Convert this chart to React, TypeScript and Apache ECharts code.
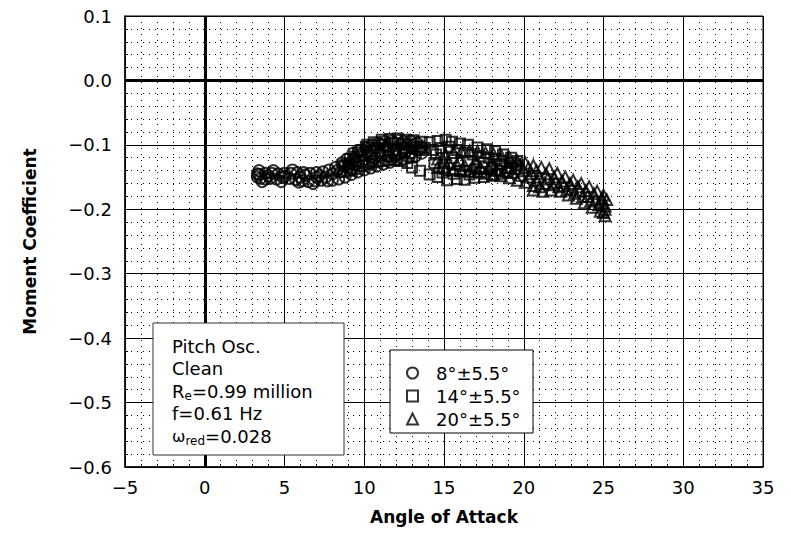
import React, { useEffect, useRef } from "react";
import * as echarts from "echarts";

// 8°±5.5° (circles)
const circlePts: number[][] = [
  [3.3, -0.150], [3.5, -0.152], [3.8, -0.153], [4.1, -0.152], [4.5, -0.153], [4.9, -0.151], [5.3, -0.152],
  [5.7, -0.154], [6.1, -0.156], [6.5, -0.157], [6.9, -0.156], [7.3, -0.155], [7.7, -0.156], [8.0, -0.155],
  [8.4, -0.153], [8.8, -0.150], [9.2, -0.146], [9.6, -0.142], [10.0, -0.139], [10.4, -0.136], [10.8, -0.133],
  [11.2, -0.130], [11.6, -0.127], [12.0, -0.124], [12.4, -0.122], [12.8, -0.120], [13.2, -0.118], [13.6, -0.113],
  [13.6, -0.103], [13.3, -0.097], [12.9, -0.094], [12.5, -0.095], [12.1, -0.093], [11.7, -0.094], [11.3, -0.095],
  [10.9, -0.097], [10.5, -0.100], [10.1, -0.105], [9.7, -0.109], [9.3, -0.113], [8.9, -0.122], [8.6, -0.128],
  [8.2, -0.135], [7.8, -0.139], [7.4, -0.142], [7.0, -0.143], [6.6, -0.144], [6.2, -0.143], [5.8, -0.143],
  [5.4, -0.144], [5.0, -0.144], [4.6, -0.145], [4.2, -0.144], [3.8, -0.144], [3.4, -0.146],
  [3.3, -0.145], [4.0, -0.148], [5.0, -0.149], [6.0, -0.150], [7.0, -0.150], [8.0, -0.145], [9.0, -0.135],
  [10.0, -0.122], [11.0, -0.112], [12.0, -0.107], [13.0, -0.105], [11.5, -0.118], [10.5, -0.125], [9.5, -0.130],
  [8.5, -0.142],
  [3.4, -0.140], [3.6, -0.157], [4.3, -0.140], [4.8, -0.157], [5.5, -0.139], [5.9, -0.158], [6.3, -0.147],
  [6.8, -0.160], [7.2, -0.148], [7.6, -0.150], [8.3, -0.140], [8.7, -0.133], [9.1, -0.128], [9.4, -0.120],
  [9.8, -0.115], [10.2, -0.112], [10.6, -0.108], [11.0, -0.100], [11.4, -0.103], [11.8, -0.110], [12.2, -0.113],
  [12.6, -0.110], [13.0, -0.112], [13.4, -0.108], [12.3, -0.100], [11.9, -0.118], [10.7, -0.120], [10.3, -0.128],
  [9.9, -0.126], [9.2, -0.138],
];

// 14°±5.5° (squares)
const squarePts: number[][] = [
  [8.7, -0.142], [9.1, -0.140], [9.5, -0.137], [9.9, -0.133], [10.3, -0.130], [10.7, -0.127], [11.1, -0.125],
  [11.5, -0.124], [11.9, -0.123], [12.3, -0.125], [12.7, -0.128], [13.0, -0.135], [13.5, -0.140], [14.1, -0.146],
  [14.6, -0.150], [15.2, -0.155], [15.8, -0.153], [16.3, -0.154], [16.9, -0.151], [17.5, -0.150], [18.0, -0.148],
  [18.5, -0.145], [19.0, -0.142], [19.5, -0.138],
  [19.6, -0.125], [19.2, -0.120], [18.7, -0.115], [18.2, -0.110], [17.7, -0.107], [17.1, -0.104], [16.5, -0.100],
  [16.0, -0.098], [15.5, -0.095], [15.1, -0.092], [14.6, -0.094], [14.1, -0.096], [13.6, -0.095], [13.1, -0.093],
  [12.6, -0.092], [12.1, -0.090], [11.6, -0.091], [11.1, -0.092], [10.6, -0.096], [10.1, -0.103], [9.6, -0.112],
  [9.1, -0.122], [8.7, -0.132],
  [9.5, -0.125], [10.5, -0.115], [11.5, -0.108], [12.5, -0.105], [13.5, -0.108], [14.5, -0.115], [15.5, -0.120],
  [16.5, -0.125], [17.5, -0.128], [18.5, -0.130], [19.5, -0.132], [15.0, -0.135], [16.0, -0.140], [17.0, -0.138],
  [18.0, -0.135],
  [9.0, -0.130], [9.4, -0.118], [9.8, -0.108], [10.2, -0.100], [10.8, -0.105], [11.3, -0.100], [11.8, -0.097],
  [12.4, -0.098], [12.9, -0.100], [13.3, -0.103], [13.8, -0.105], [14.3, -0.108], [14.8, -0.105], [15.3, -0.103],
  [15.8, -0.108], [16.3, -0.112], [16.8, -0.115], [17.3, -0.118], [17.8, -0.120], [18.3, -0.122], [18.8, -0.125],
  [19.3, -0.128], [14.4, -0.128], [14.9, -0.143], [15.6, -0.145], [16.6, -0.146], [17.3, -0.142], [18.3, -0.140],
  [19.2, -0.136], [13.0, -0.118], [12.0, -0.115], [11.0, -0.117],
];

// 20°±5.5° (triangles)
const trianglePts: number[][] = [
  [14.6, -0.135], [15.1, -0.137], [15.6, -0.139], [16.1, -0.140], [16.6, -0.141], [17.1, -0.142], [17.6, -0.144],
  [18.1, -0.146], [18.6, -0.148], [19.1, -0.151], [19.6, -0.155], [20.1, -0.158], [20.6, -0.163], [21.2, -0.172],
  [21.7, -0.170], [22.3, -0.172], [22.8, -0.178], [23.3, -0.183], [23.8, -0.190], [24.3, -0.197], [24.8, -0.203],
  [25.1, -0.210],
  [25.2, -0.185], [25.0, -0.178], [24.6, -0.172], [24.1, -0.165], [23.6, -0.160], [23.1, -0.155], [22.6, -0.150],
  [22.1, -0.144], [21.6, -0.137], [21.1, -0.135], [20.6, -0.132], [20.1, -0.128], [19.6, -0.125], [19.1, -0.120],
  [18.6, -0.117], [18.1, -0.114], [17.6, -0.112], [17.1, -0.110], [16.6, -0.109], [16.1, -0.110], [15.6, -0.112],
  [15.1, -0.115], [14.6, -0.122],
  [25.1, -0.195], [25.1, -0.200], [24.9, -0.190], [24.5, -0.185], [24.0, -0.180], [23.5, -0.172], [23.0, -0.168],
  [22.5, -0.163], [22.0, -0.158], [21.5, -0.153], [21.0, -0.150], [20.5, -0.145], [20.0, -0.140], [19.0, -0.135],
  [18.0, -0.130], [17.0, -0.127], [16.0, -0.125], [15.0, -0.125],
  [15.3, -0.128], [15.8, -0.130], [16.3, -0.132], [16.8, -0.133], [17.3, -0.135], [17.8, -0.137], [18.3, -0.139],
  [18.8, -0.141], [19.3, -0.143], [19.8, -0.147], [20.3, -0.150], [20.8, -0.155], [21.3, -0.160], [21.8, -0.162],
  [22.2, -0.165], [22.7, -0.170], [23.2, -0.175], [23.7, -0.180], [24.2, -0.187], [24.7, -0.193], [25.0, -0.205],
  [20.8, -0.140], [21.4, -0.145], [21.9, -0.150], [22.4, -0.156], [22.9, -0.160], [23.4, -0.165], [23.9, -0.171],
  [24.4, -0.176], [24.9, -0.183], [20.3, -0.135], [19.8, -0.131], [21.0, -0.165], [20.6, -0.170],
];

const seriesNames = ["8°±5.5°", "14°±5.5°", "20°±5.5°"];
const seriesSymbols = ["circle", "rect", "triangle"];
const seriesSizes = [11, 10, 11];
const seriesData = [circlePts, squarePts, trianglePts];

const xName = "Angle of Attack";
const yName = "Moment Coefficient";

const FONT = "DejaVu Sans";

function fmt(v: number, d: number) {
  const r = Math.round(v * Math.pow(10, d)) / Math.pow(10, d);
  const s = Math.abs(r).toFixed(d);
  return r < 0 ? "\u2212" + s : s;
}

export default function App() {
  const ref = useRef<HTMLDivElement>(null);
  useEffect(() => {
    const chart = echarts.init(ref.current!, null, { renderer: "svg" });
    const series: any[] = seriesNames.map((name, i) => ({
      name,
      type: "scatter",
      symbol: seriesSymbols[i],
      symbolSize: seriesSizes[i],
      data: seriesData[i],
      itemStyle: { color: "rgba(0,0,0,0)", borderColor: "#000", borderWidth: 2 },
      z: 3,
    }));
    series[0].markLine = {
      silent: true,
      symbol: "none",
      label: { show: false },
      lineStyle: { color: "#000", width: 3, type: "solid" },
      data: [{ xAxis: 0 }, { yAxis: 0 }],
      z: 2,
    };
    const axisCommon = {
      axisLine: { show: true, onZero: false, lineStyle: { color: "#000", width: 1.5 } },
      axisTick: { show: true, inside: true, length: 5, lineStyle: { color: "#000" } },
      minorTick: { show: true, splitNumber: 5, length: 3, lineStyle: { color: "#000" } },
      splitLine: { show: true, lineStyle: { color: "#000", width: 1 } },
      minorSplitLine: { show: true, lineStyle: { color: "#000", width: 1, type: [1, 5] } },
      nameTextStyle: { fontFamily: FONT, fontSize: 17, color: "#000", fontWeight: "bold" },
    };
    chart.setOption({
      animation: false,
      backgroundColor: "#fff",
      textStyle: { fontFamily: FONT },
      grid: { left: 125, right: 28, top: 16, bottom: 66, show: true, borderColor: "#000", borderWidth: 1 },
      xAxis: {
        type: "value",
        min: -5,
        max: 35,
        interval: 5,
        name: xName,
        nameLocation: "middle",
        nameGap: 41,
        ...axisCommon,
        axisLabel: { fontFamily: FONT, fontSize: 18, color: "#000", margin: 11, formatter: (v: number) => fmt(v, 0) },
      },
      yAxis: {
        type: "value",
        min: -0.6,
        max: 0.1,
        interval: 0.1,
        name: yName,
        nameLocation: "middle",
        nameGap: 87,
        ...axisCommon,
        axisLabel: { fontFamily: FONT, fontSize: 18, color: "#000", margin: 13, formatter: (v: number) => fmt(v, 1) },
      },
      legend: {
        show: true,
        orient: "vertical",
        left: 401,
        top: 359,
        z: 60,
        itemWidth: 11,
        itemHeight: 11,
        itemGap: 5,
        selectedMode: false,
        data: seriesNames.map((n, i) => ({ name: n, icon: seriesSymbols[i] })),
        itemStyle: { color: "#fff", borderColor: "#000", borderWidth: 2 },
        textStyle: { fontFamily: FONT, fontSize: 18, color: "#000", lineHeight: 18, padding: [0, 0, 0, 13] },
      },
      graphic: [
        {
          type: "rect",
          shape: { x: 390, y: 350, width: 143, height: 83 },
          style: { fill: "#fff", stroke: "#000", lineWidth: 1 },
          z: 50,
        },
        {
          type: "rect",
          shape: { x: 153, y: 323, width: 191, height: 132 },
          style: { fill: "#fff", stroke: "#333", lineWidth: 1 },
          z: 50,
        },
        {
          type: "text",
          left: 172,
          top: 337,
          z: 51,
          style: {
            text: [
              "{n|Pitch Osc.}",
              "{n|Clean}",
              "{n|R}{s|e}{n|=0.99 million}",
              "{n|f=0.61 Hz}",
              "{w|\u03c9}{s|red}{n|=0.028}",
            ].join("\n"),
            fill: "#000",
            rich: {
              n: { fontFamily: FONT, fontSize: 18, lineHeight: 22.5, fill: "#000" },
              s: { fontFamily: FONT, fontSize: 12, lineHeight: 22.5, fill: "#000", verticalAlign: "bottom", padding: [6, 0, 0, 0] },
              w: { fontFamily: FONT, fontSize: 16, lineHeight: 22.5, fill: "#000" },
            },
          },
        },
      ],
      series,
    });
    return () => chart.dispose();
  }, []);
  return <div ref={ref} style={{ position: "fixed", left: 0, top: 0, width: 791, height: 533 }} />;
}
